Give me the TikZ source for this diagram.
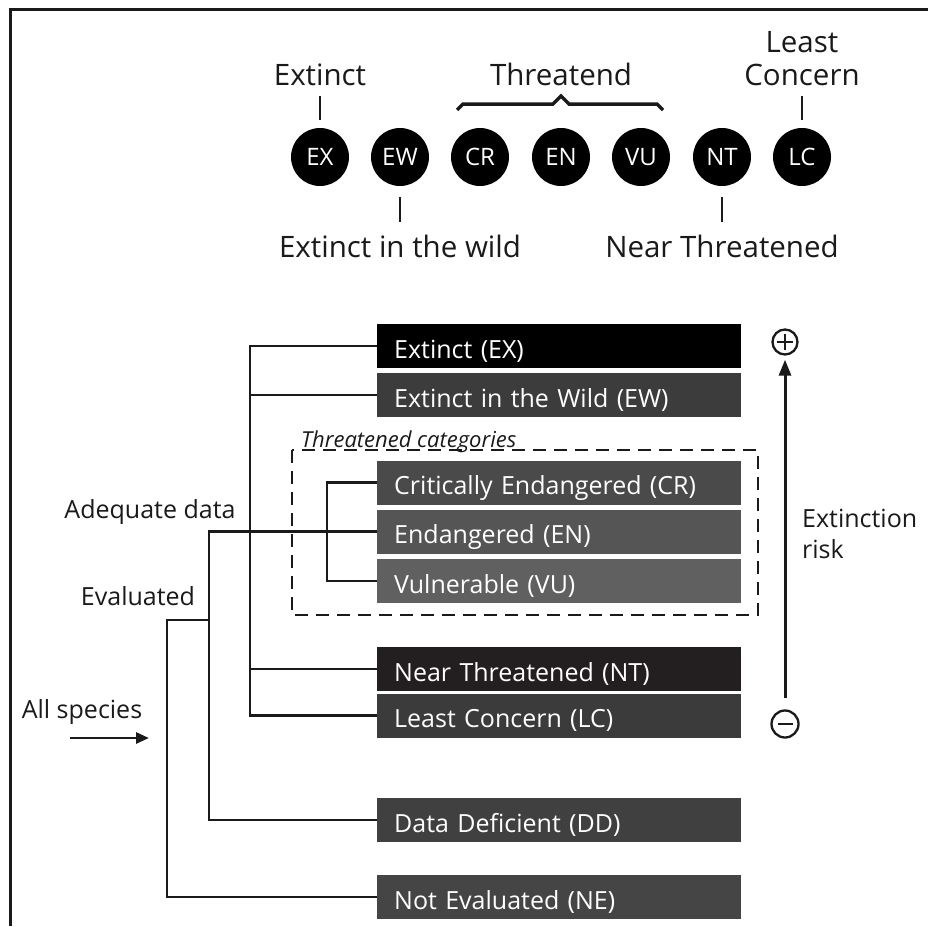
\documentclass[tikz,border=0pt]{standalone}
\usepackage{fontspec}
\setmainfont{Open Sans}
\usetikzlibrary{arrows.meta}
\definecolor{cEXc}{HTML}{000000}
\definecolor{cEWc}{HTML}{3C3C3C}
\definecolor{cCRc}{HTML}{4A4A4A}
\definecolor{cENc}{HTML}{555555}
\definecolor{cVUc}{HTML}{606060}
\definecolor{cNTc}{HTML}{231F20}
\definecolor{cLCc}{HTML}{3B3B3B}
\definecolor{cDDc}{HTML}{404040}
\definecolor{cNEc}{HTML}{454545}
\definecolor{linec}{HTML}{1A1A1A}
\begin{document}
\begin{tikzpicture}[x=1pt,y=-1pt,
  toplbl/.style={font=\fontsize{29.5}{34}\selectfont, inner sep=0pt, anchor=base, text=linec},
  sidelbl/.style={font=\fontsize{25}{30}\selectfont, inner sep=0pt, anchor=base, text=linec},
  dot/.style={circle, fill=black, minimum size=58pt, inner sep=0pt, text=white, font=\fontsize{24}{28}\selectfont},
  catbox/.style={anchor=west, text width=330pt, inner xsep=17pt, inner ysep=0pt, text height=34pt, text depth=10pt, align=left, text=white, font=\fontsize{25}{30}\selectfont},
  tree/.style={line width=2.8pt, draw=linec},
  tickln/.style={line width=2.4pt, draw=linec},
  signc/.style={circle, draw=linec, line width=2.3pt, minimum size=25pt, inner sep=0pt}
]
\useasboundingbox (0,0) rectangle (928,926);
\fill[white] (0,0) rectangle (928,926);
% frame
\draw[line width=3pt, linec] (10,926) -- (10,9.5) -- (928,9.5);

% ---------- top legend ----------
\node[dot] (cEX) at (320,157) {EX};
\node[dot] (cEW) at (400,157) {EW};
\node[dot] (cCR) at (480,157) {CR};
\node[dot] (cEN) at (561,157) {EN};
\node[dot] (cVU) at (641,157) {VU};
\node[dot] (cNT) at (722,157) {NT};
\node[dot] (cLC) at (802,157) {LC};

\node[toplbl] (tExtinct) at (320,85) {Extinct};
\node[toplbl] (tThr) at (561,85) {Threatend};
\node[toplbl] (tLeast) at (802,52) {Least};
\node[toplbl] (tConcern) at (802,85) {Concern};
\node[toplbl] (tEW) at (400,257) {Extinct in the wild};
\node[toplbl] (tNT) at (722,257) {Near Threatened};

\draw[tickln] (cEX.north) ++(0,-8) -- ++(0,-24);
\draw[tickln] (cLC.north) ++(0,-8) -- ++(0,-24);
\draw[tickln] (cEW.south) ++(0,11) -- ++(0,25);
\draw[tickln] (cNT.south) ++(0,11) -- ++(0,25);

% brace over CR EN VU
\draw[line width=3.5pt, linec, line join=miter]
  (457,110) -- (463,104) -- (553,104) -- (561,96) -- (569,104) -- (657,104) -- (663,110);

% ---------- category boxes ----------
\node[catbox, fill=cEXc] (EX) at (377,346) {Extinct (EX)};
\node[catbox, fill=cEWc] (EW) at (377,395) {Extinct in the Wild (EW)};
\node[catbox, fill=cCRc] (CR) at (377,482.5) {Critically Endangered (CR)};
\node[catbox, fill=cENc] (EN) at (377,531.5) {Endangered (EN)};
\node[catbox, fill=cVUc] (VU) at (377,581) {Vulnerable (VU)};
\node[catbox, fill=cNTc] (NT) at (377,669) {Near Threatened (NT)};
\node[catbox, fill=cLCc] (LC) at (377,715.5) {Least Concern (LC)};
\node[catbox, fill=cDDc] (DD) at (377,820) {Data Deficient (DD)};
\node[catbox, fill=cNEc] (NE) at (377,897) {Not Evaluated (NE)};

% dashed threatened frame
\draw[line width=2.6pt, linec, dash pattern=on 13pt off 8pt] (292,450) rectangle (758,615);
\node[font=\fontsize{22}{26}\selectfont\itshape, inner sep=0pt, anchor=base west, text=linec] (thrcat) at (301,447) {Threatened categories};

% ---------- tree ----------
\coordinate (v1) at (250,0);
\coordinate (v2) at (327,0);
\coordinate (v3) at (209,0);
\coordinate (v4) at (167,620);

\draw[tree] (EX.west) -| (v1 |- LC.west) -- (LC.west);
\draw[tree] (EW.west) -- (v1 |- EW.west);
\draw[tree] (NT.west) -- (v1 |- NT.west);
\draw[tree] (CR.west) -| (v2 |- VU.west) -- (VU.west);
\draw[tree] (EN.west) -- (v3 |- EN.west) -- (v3 |- DD.west) -- (DD.west);
\draw[tree] (v3 |- v4) -- (v4) -- (v4 |- NE.west) -- (NE.west);

% side labels
\node[sidelbl] (lAdeq) at (150,518) {Adequate data};
\node[sidelbl] (lEval) at (138,605) {Evaluated};
\node[sidelbl] (lAll) at (82,718) {All species};
\coordinate (a1) at (70,738);
\coordinate (a2) at (149,738);
\draw[tree, -{Triangle[length=13pt,width=11pt]}] (a1) -- (a2);

% ---------- extinction risk ----------
\node[signc] (plus) at (785,342) {};
\draw[line width=2.3pt, linec] ([xshift=-8pt]plus.center) -- ([xshift=8pt]plus.center);
\draw[line width=2.3pt, linec] ([yshift=-8pt]plus.center) -- ([yshift=8pt]plus.center);
\node[signc, minimum height=27pt, minimum width=24pt] (minus) at (785,724) {};
\draw[line width=2.3pt, linec] ([xshift=-7.5pt]minus.center) -- ([xshift=7.5pt]minus.center);
\draw[line width=3pt, linec, -{Triangle[length=16pt,width=12pt]}, shorten <=11pt, shorten >=4pt] (minus.north) -- (plus.south);
\node[sidelbl, anchor=base west] (lExt) at (802,527) {Extinction};
\node[sidelbl, anchor=base west] (lRisk) at (802,558) {risk};
\end{tikzpicture}
\end{document}
